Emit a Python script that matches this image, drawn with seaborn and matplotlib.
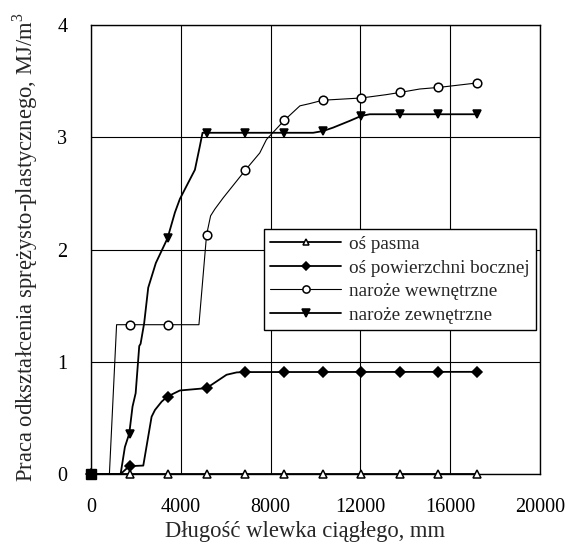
import matplotlib
matplotlib.use("Agg")
import matplotlib.pyplot as plt
import matplotlib.ticker as mticker
from matplotlib.lines import Line2D
import seaborn as sns

# ─── DATA ─────────────────────────────────────────────────────────────────────
# marker positions (mm) shared by all four series
MARK_X = [0, 1720, 3440, 5160, 6880, 8600, 10320, 12040, 13760, 15480, 17200]

# oś pasma
AXIS_LINE_X = [0, 17200]
AXIS_LINE_Y = [0, 0]
AXIS_MARK_Y = [0, 0, 0, 0, 0, 0, 0, 0, 0, 0, 0]

# oś powierzchni bocznej
SIDE_LINE_X = [0, 1320, 1705, 2330, 2700, 2850, 3150, 3410, 3960, 5150, 6040, 6490, 6870, 17200]
SIDE_LINE_Y = [0, 0, 0.07, 0.075, 0.51, 0.57, 0.645, 0.69, 0.744, 0.765, 0.884, 0.905, 0.908, 0.91]
SIDE_MARK_Y = [0, 0.07, 0.69, 0.765, 0.908, 0.91, 0.91, 0.91, 0.91, 0.91, 0.91]

# naroże wewnętrzne
INNER_LINE_X = [0, 820, 1140, 1705, 3410, 4810, 5150, 5330, 5520, 5890, 6490, 6890, 7520,
                7820, 8610, 9310, 9750, 10330, 12050, 13170, 13790, 14650, 15540, 17250]
INNER_LINE_Y = [0, 0, 1.33, 1.33, 1.33, 1.33, 2.13, 2.30, 2.36, 2.46, 2.61, 2.71, 2.86,
                2.98, 3.15, 3.28, 3.30, 3.33, 3.35, 3.38, 3.40, 3.43, 3.445, 3.485]
INNER_MARK_Y = [0, 1.33, 1.33, 2.13, 2.71, 3.15, 3.33, 3.35, 3.40, 3.445, 3.485]

# naroże zewnętrzne
OUTER_LINE_X = [0, 1320, 1510, 1705, 1850, 1990, 2150, 2210, 2370, 2550, 2890, 3410, 3740,
                3960, 4410, 4630, 4850, 4970, 5160, 9900, 10330, 10790, 11530, 12040, 12420, 17200]
OUTER_LINE_Y = [0, 0, 0.24, 0.36, 0.60, 0.72, 1.14, 1.16, 1.345, 1.66, 1.88, 2.10, 2.33,
                2.45, 2.625, 2.71, 2.92, 3.04, 3.04, 3.04, 3.055, 3.086, 3.146, 3.19, 3.205, 3.205]
OUTER_MARK_Y = [0, 0.36, 2.10, 3.04, 3.04, 3.04, 3.055, 3.19, 3.205, 3.205, 3.205]

LABELS = ["oś pasma", "oś powierzchni bocznej", "naroże wewnętrzne", "naroże zewnętrzne"]

# ─── STYLE ────────────────────────────────────────────────────────────────────
sns.set_theme(style="white")
plt.rcParams.update({
    "font.family": ["Liberation Serif", "DejaVu Serif"],
    "mathtext.fontset": "custom",
    "mathtext.rm": "Liberation Serif",
    "axes.edgecolor": "black",
    "axes.linewidth": 1.0,
    "xtick.color": "black",
    "ytick.color": "black",
})

fig = plt.figure(figsize=(5.67, 5.44), dpi=100)
ax = fig.add_axes([0.1605, 0.1287, 0.7915, 0.8253])

series = [
    (AXIS_LINE_X, AXIS_LINE_Y, AXIS_MARK_Y, "^", "white", 1.3, 5.5),
    (SIDE_LINE_X, SIDE_LINE_Y, SIDE_MARK_Y, "D", "black", 1.3, 4.8),
    (INNER_LINE_X, INNER_LINE_Y, INNER_MARK_Y, "o", "white", 0.8, 6.2),
    (OUTER_LINE_X, OUTER_LINE_Y, OUTER_MARK_Y, "v", "black", 1.3, 6.2),
]

handles = []
for (lx, ly, my, mk, fc, lw, ms), lab in zip(series, LABELS):
    sns.lineplot(x=lx, y=ly, ax=ax, color="black", lw=lw, sort=False,
                 estimator=None, zorder=3)
    ax.plot(MARK_X, my, linestyle="none", marker=mk, markersize=ms,
            markerfacecolor=fc, markeredgecolor="black", markeredgewidth=1.1,
            zorder=4, clip_on=False)
    handles.append(Line2D([], [], color="black", lw=lw, marker=mk, markersize=ms - 1,
                          markerfacecolor=fc, markeredgecolor="black", markeredgewidth=1.1))

# overlapping start markers at the origin render as a filled square
ax.plot([0], [0], marker="s", markersize=6.5, color="black", zorder=5, clip_on=False)

ax.set_xlim(0, 20000)
ax.set_ylim(0, 4)
ax.xaxis.set_major_locator(mticker.MultipleLocator(4000))
ax.xaxis.set_minor_locator(mticker.MultipleLocator(2000))
ax.yaxis.set_major_locator(mticker.MultipleLocator(1))
ax.yaxis.set_minor_locator(mticker.MultipleLocator(0.5))
ax.tick_params(which="major", direction="out", length=10, width=1, labelsize=14.5)
ax.tick_params(which="minor", direction="out", length=5, width=1)
ax.tick_params(axis="x", which="major", pad=7)
ax.tick_params(axis="y", which="major", pad=7)
ax.grid(True, which="major", color="black", lw=0.8)
for s in ax.spines.values():
    s.set_visible(True)
    s.set_color("black")

ax.set_xlabel("Długość wlewka ciągłego, mm", fontsize=16.3)
ax.set_ylabel("Praca odkształcenia sprężysto-plastycznego, MJ/m$^3$", fontsize=16.3)
ax.xaxis.set_label_coords(0.4766, -0.104)
ax.yaxis.set_label_coords(-0.113, 0.5056)

leg = ax.legend(handles, LABELS, loc="upper left", bbox_to_anchor=(0.385, 0.546),
                fontsize=13.8, frameon=True, fancybox=False, edgecolor="black",
                framealpha=1, handlelength=3.7, labelspacing=0.32, borderpad=0.35,
                handletextpad=0.4, borderaxespad=0)
leg.get_frame().set_linewidth(1.0)
leg.set_zorder(6)

fig.savefig("out.png", dpi=100)
